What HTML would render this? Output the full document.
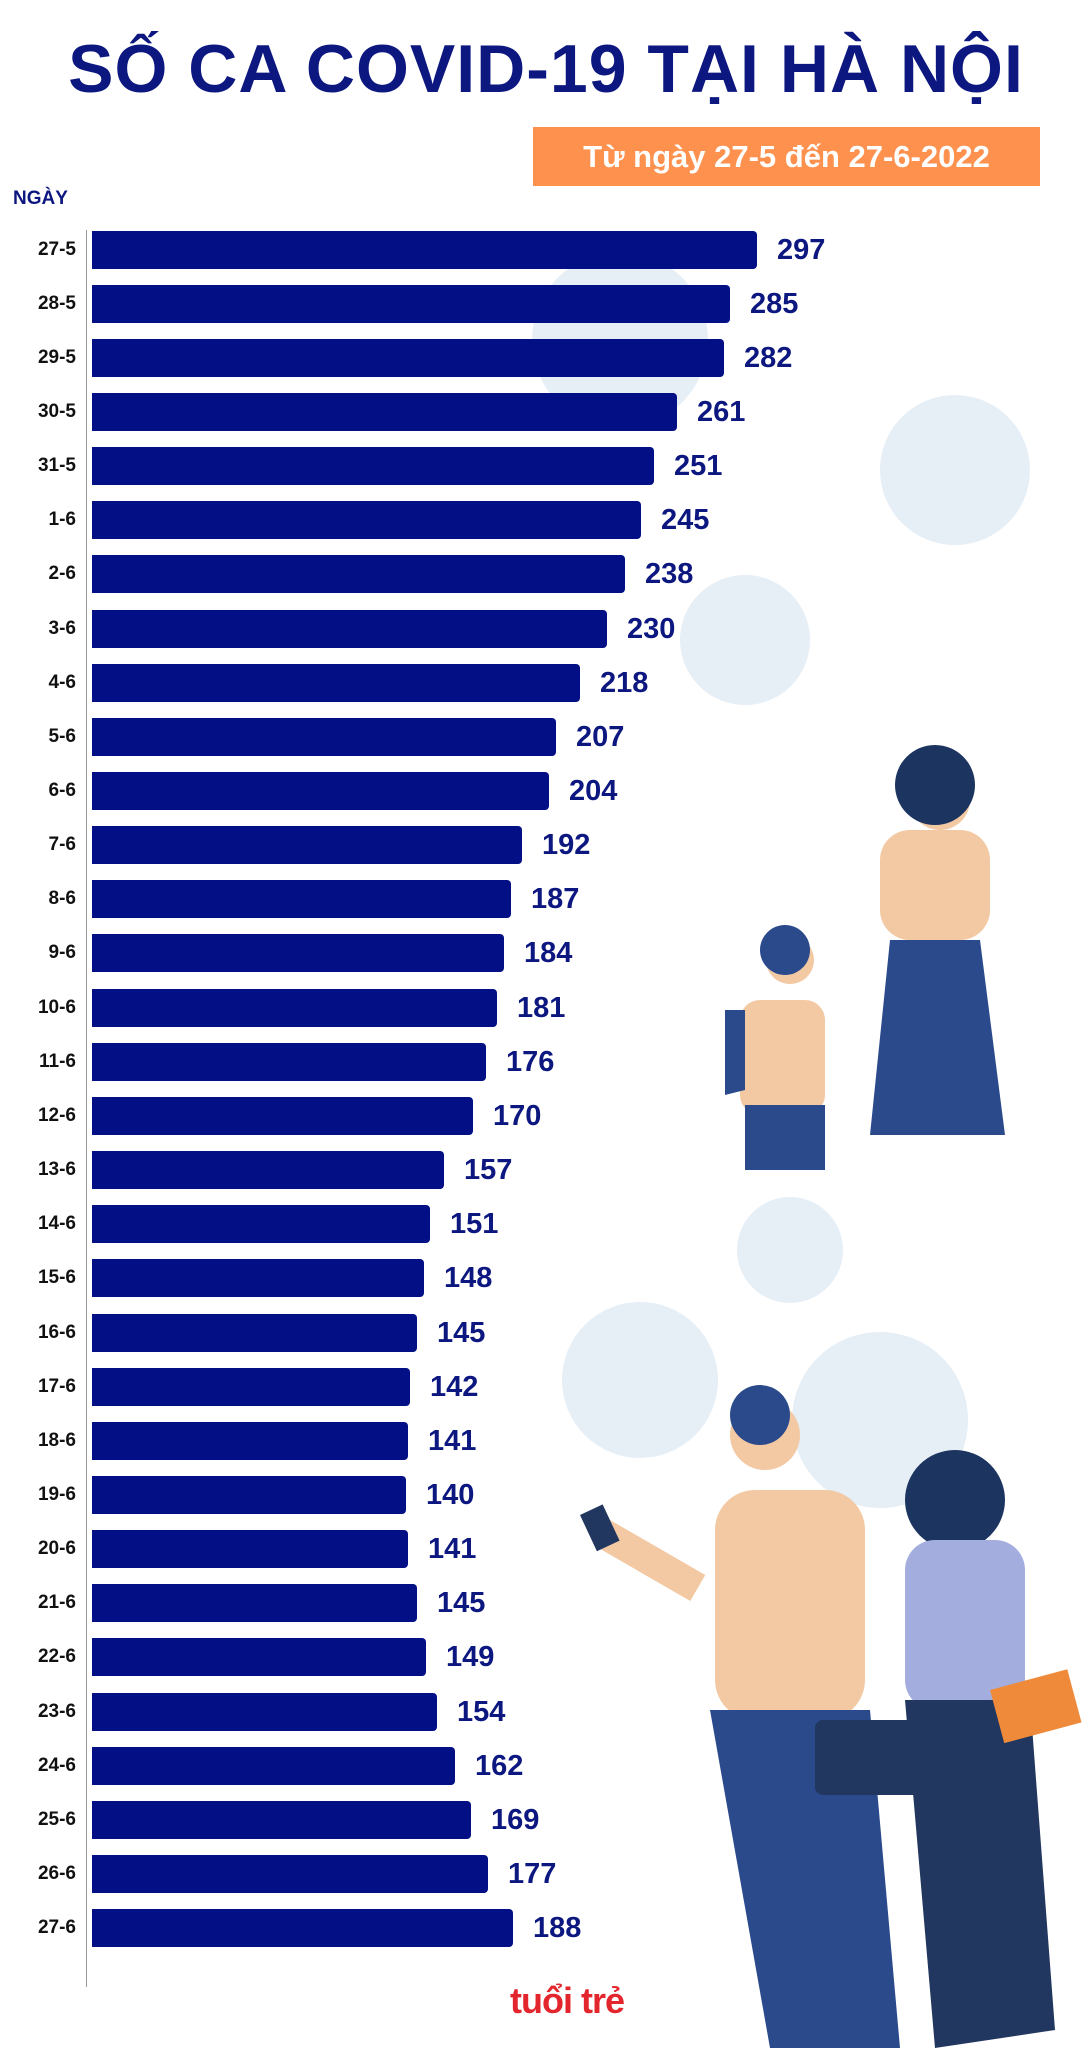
<!DOCTYPE html>
<html><head><meta charset="utf-8"><style>
body{margin:0;width:1092px;height:2048px;background:#fff;position:relative;overflow:hidden;font-family:"Liberation Sans","Noto Sans CJK SC",sans-serif}
.t{position:absolute;left:0;width:1092px;top:30px;text-align:center;font-weight:bold;font-size:68px;color:#0d1780;letter-spacing:1px}
.sub{position:absolute;left:533px;top:127px;width:507px;height:59px;background:#fe914e;color:#fff;font-weight:bold;font-size:31px;line-height:59px;text-align:center}
.ng{position:absolute;left:13px;top:188px;font-weight:bold;font-size:19px;color:#0d1780}
.ax{position:absolute;left:86px;top:230px;width:1px;height:1757px;background:#999}
.bar{position:absolute;left:92px;height:38px;background:#020f85;border-radius:0 4px 4px 0}
.lb{position:absolute;width:76px;text-align:right;left:0;font-weight:bold;font-size:19px;color:#111;line-height:38px}
.v{position:absolute;font-weight:bold;font-size:29px;color:#0d1780;line-height:38px}
</style></head><body>
<svg width="1092" height="2048" style="position:absolute;left:0;top:0">
<g fill="#e6eef6" stroke="#e6eef6" stroke-width="6">
<circle cx="620" cy="340" r="85"/><circle cx="955" cy="470" r="72"/><circle cx="745" cy="640" r="62"/>
<circle cx="640" cy="1380" r="75"/><circle cx="880" cy="1420" r="85"/><circle cx="790" cy="1250" r="50"/>
</g>
<g fill="#f3c9a3">
<circle cx="940" cy="800" r="30"/><rect x="880" y="830" width="110" height="110" rx="30"/>
<circle cx="790" cy="960" r="24"/><rect x="740" y="1000" width="85" height="115" rx="20"/>
<circle cx="765" cy="1435" r="35"/><rect x="715" y="1490" width="150" height="230" rx="40"/>
<rect x="610" y="1520" width="110" height="30" transform="rotate(30 610 1520)"/>
</g>
<path d="M890 940 L980 940 L1005 1135 L870 1135 Z" fill="#2b4a8c"/>
<rect x="745" y="1105" width="80" height="65" fill="#2b4a8c"/>
<path d="M725 1010 L745 1010 L745 1090 L725 1095 Z" fill="#2b4a8c"/>
<circle cx="935" cy="785" r="40" fill="#1c3460"/>
<circle cx="785" cy="950" r="25" fill="#2b4a8c"/>
<circle cx="760" cy="1415" r="30" fill="#2b4a8c"/>
<circle cx="955" cy="1500" r="50" fill="#1c3460"/>
<rect x="905" y="1540" width="120" height="170" rx="30" fill="#a4aede"/>
<path d="M710 1710 L870 1710 L900 2048 L770 2048 Z" fill="#2b4a8c"/>
<path d="M905 1700 L1030 1700 L1055 2030 L935 2048 Z" fill="#22375f"/>
<rect x="815" y="1720" width="135" height="75" rx="8" fill="#22375f"/>
<rect x="990" y="1690" width="80" height="55" fill="#ef8a3a" transform="rotate(-15 990 1690)"/>
<rect x="580" y="1515" width="25" height="40" fill="#22375f" transform="rotate(-25 580 1515)"/>
</svg>
<div class="t">SỐ CA COVID-19 TẠI HÀ NỘI</div>
<div class="sub">Từ ngày 27-5 đến 27-6-2022</div>
<div class="ng">NGÀY</div>
<div class="ax"></div>
<div id="c"></div>
<div style="position:absolute;left:510px;top:1980px;font-weight:bold;font-size:36px;color:#e3262d;letter-spacing:-1px">tuổi trẻ</div>
<script>
var d=[["27-5",297],["28-5",285],["29-5",282],["30-5",261],["31-5",251],["1-6",245],["2-6",238],["3-6",230],["4-6",218],["5-6",207],["6-6",204],["7-6",192],["8-6",187],["9-6",184],["10-6",181],["11-6",176],["12-6",170],["13-6",157],["14-6",151],["15-6",148],["16-6",145],["17-6",142],["18-6",141],["19-6",140],["20-6",141],["21-6",145],["22-6",149],["23-6",154],["24-6",162],["25-6",169],["26-6",177],["27-6",188]];
var h="";d.forEach(function(e,i){var y=Math.round(249.5+i*54.15-19),w=Math.round(e[1]*2.24);
h+='<div class="lb" style="top:'+y+'px">'+e[0]+'</div><div class="bar" style="top:'+y+'px;width:'+w+'px"></div><div class="v" style="top:'+y+'px;left:'+(92+w+20)+'px">'+e[1]+'</div>';});
document.getElementById("c").innerHTML=h;
</script>
</body></html>
